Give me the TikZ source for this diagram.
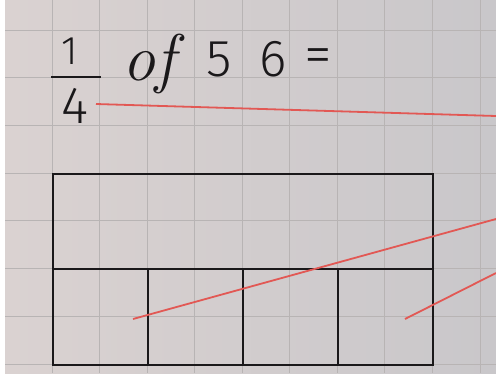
\documentclass[tikz,border=0pt]{standalone}
\usepackage{fontspec}
\usepackage{tikz}
\usetikzlibrary{positioning,calc}
\usepackage{xcolor}
\newfontfamily\handfont{Fira Sans Light}

\definecolor{paperpink}{RGB}{218,210,209}
\definecolor{papergrey}{RGB}{201,199,202}
\definecolor{gridgrey}{RGB}{184,180,180}
\definecolor{penred}{RGB}{226,88,84}
\definecolor{ink}{RGB}{26,24,26}

\tikzset{
    gridline/.style={gridgrey, line width=0.8pt},
    barbox/.style={draw=ink, line width=1.8pt, inner sep=0pt, anchor=north west},
    redline/.style={penred, line width=1.8pt},
    hand/.style={text=ink, inner sep=0pt, anchor=base},
}

\begin{document}
\begin{tikzpicture}[x=1pt, y=-1pt]
            \useasboundingbox (0,0) rectangle (496,373);
            % Paper
            \fill[left color=paperpink, right color=papergrey] (5,0) rectangle (496,373);
            \fill[white] (0,0) rectangle (5,373);
            
            % Squared grid
            \foreach \i in {0,...,9}
                \draw[gridline] ({52+47.55*\i},0) -- ++(0,373);
            \foreach \j in {0,...,7}
                \draw[gridline] (5,{30+47.7*\j}) -- ++(491,0);
            
            % Question
            \node[hand, font=\handfont\fontsize{40}{40}\selectfont] (one) at (70,64) {1};
            \node[hand, font=\handfont\fontsize{52}{52}\selectfont] (four) at (75,123) {4};
            \coordinate (barL) at (51,77);
            \coordinate (barR) at (101,77);
            \draw[ink, line width=1.5pt] (barL) -- (barR);
            \node[hand, font=\itshape\fontsize{66}{66}\selectfont] (of) at (149,80) {of};
            \node[hand, font=\handfont\fontsize{52}{52}\selectfont] (five) at (219,76) {5};
            \node[hand, font=\handfont\fontsize{52}{52}\selectfont] (six) at (273,76) {6};
            \node[hand, font=\handfont\fontsize{56}{56}\selectfont] (equals) at (318,73) {=};
            
            % Bar model: whole and four parts
            \node[barbox, minimum width=380pt, minimum height=95pt] (whole) at (52,173) {};
            \foreach \k in {0,...,3}
                \node[barbox, minimum width=95pt, minimum height=96pt] (part\k) at ({52+95*\k},268) {};
            
            % Red pointer lines
            \coordinate (endA) at (496,116);
            \coordinate (endB) at (496,219);
            \coordinate (endC) at (496,273);
            \coordinate (startA) at (96,104);
            \coordinate (startB) at (133,319);
            \coordinate (startC) at (405,319);
            \draw[redline] (startA) -- (endA);
            \draw[redline] (startB) -- (endB);
            \draw[redline] (startC) -- (endC);
        \end{tikzpicture}
\end{document}
